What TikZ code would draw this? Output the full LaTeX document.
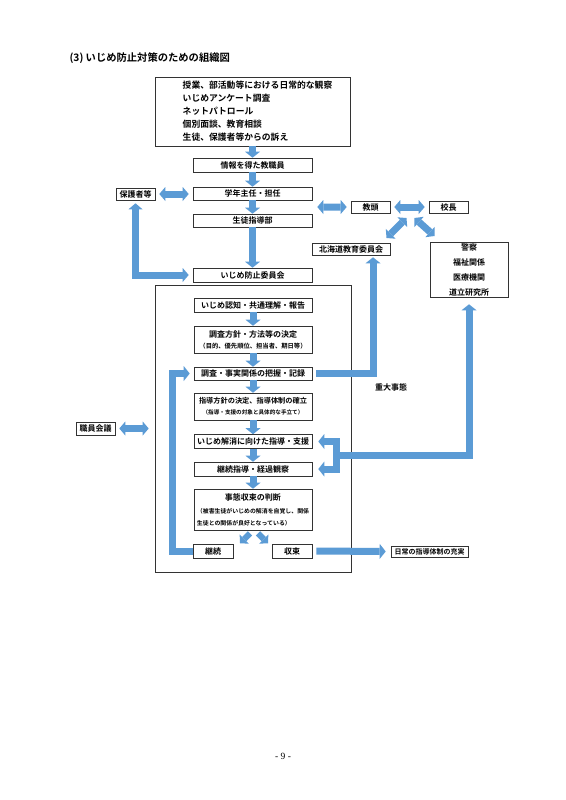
\documentclass[tikz,border=0pt]{standalone}
\usepackage{fontspec}
\setmainfont{Noto Sans CJK JP}[BoldFont={Noto Sans CJK JP Bold}]
\newfontfamily\pagefont{Liberation Serif}
\usepackage{xcolor}
\usetikzlibrary{arrows.meta, calc}
\definecolor{arrowblue}{RGB}{91,155,213}
\newcommand{\notetext}[2]{{\fontsize{#1}{#1}\selectfont #2}}
\newcommand{\ind}{\hspace*{10pt}}

\begin{document}
\begin{tikzpicture}[x=1pt, y=-1pt,
  box/.style={draw=black!80, line width=0.6pt, inner sep=1pt, font=\bfseries\fontsize{8}{10}\selectfont},
  blk/.style={draw=arrowblue, line width=7pt, -{Triangle[length=6pt,width=15pt,line width=0pt]}},
  dblk/.style={draw=arrowblue, line width=7pt, {Triangle[length=6pt,width=14pt,line width=0pt]}-{Triangle[length=6pt,width=14pt,line width=0pt]}},
  blksmall/.style={draw=arrowblue, line width=6pt, -{Triangle[length=6pt,width=13pt,line width=0pt]}},
  blkbar/.style={draw=arrowblue, line width=7pt, line cap=rect}]
\fill[white] (0,0) rectangle (565,800);
\useasboundingbox (0,0) rectangle (565,800);

\node[anchor=west, font=\bfseries\fontsize{10.3}{12}\selectfont] (title) at (66,58) {(3)\ いじめ防止対策のための組織図};

% upper part
\node[box, minimum width=195, minimum height=69, align=left, font=\bfseries\fontsize{8.8}{13}\selectfont] (obs) at (252.5,111.5) {\ind 授業、部活動等における日常的な観察\\\ind いじめアンケート調査\\\ind ネットパトロール\\\ind 個別面談、教育相談\\\ind 生徒、保護者等からの訴え};
\node[box, minimum width=119, minimum height=14] (info) at (252.5,165) {情報を得た教職員};
\node[box, minimum width=119, minimum height=13] (grade) at (252.5,193.5) {学年主任・担任};
\node[box, minimum width=119, minimum height=13] (guide) at (252.5,220.5) {生徒指導部};
\node[box, minimum width=119, minimum height=14] (comm) at (252.5,275) {いじめ防止委員会};
\node[box, minimum width=39, minimum height=12] (parent) at (135.5,194) {保護者等};
\node[box, minimum width=39, minimum height=12] (vp) at (370.5,207) {教頭};
\node[box, minimum width=39, minimum height=12] (head) at (448.5,207) {校長};
\node[box, minimum width=78, minimum height=12] (board) at (351,249) {北海道教育委員会};
\node[box, minimum width=78, minimum height=55, inner sep=0pt, align=center, font=\bfseries\fontsize{8}{15}\selectfont] (police) at (469,269.5) {警察\\福祉関係\\医療機関\\道立研究所};

% committee frame
\node[box, minimum width=196, minimum height=287] (frame) at (253,428.5) {};
\node[box, minimum width=118, minimum height=14] (aware) at (253,305) {いじめ認知・共通理解・報告};
\node[box, minimum width=118, minimum height=27, align=center] (policy) at (253,339.5) {調査方針・方法等の決定\\[1pt]\notetext{6.3}{（目的、優先順位、担当者、期日等）}};
\node[box, minimum width=118, minimum height=13] (invest) at (253,373.5) {調査・事実関係の把握・記録};
\node[box, minimum width=118, minimum height=27, align=center] (plan) at (253,406.5) {\fontsize{7.2}{9}\selectfont 指導方針の決定、指導体制の確立\\[1pt]\notetext{5.6}{（指導・支援の対象と具体的な手立て）}};
\node[box, minimum width=118, minimum height=14] (support) at (253,441.5) {いじめ解消に向けた指導・支援};
\node[box, minimum width=118, minimum height=14] (follow) at (253,469) {継続指導・経過観察};
\node[box, minimum width=118, minimum height=41, align=left] (judge) at (253,509.5) {\makebox[112pt][c]{事態収束の判断}\\[3pt]\notetext{5.9}{（被害生徒がいじめの解消を自覚し、関係}\\[2pt]\notetext{5.9}{生徒との関係が良好となっている）}};
\node[box, minimum width=40, minimum height=14] (cont) at (213,551) {継続};
\node[box, minimum width=40, minimum height=14] (close) at (292,551) {収束};

\node[box, minimum width=39, minimum height=13] (staff) at (95.5,428.5) {職員会議};
\node[box, minimum width=77, minimum height=11, font=\bfseries\fontsize{7}{9}\selectfont] (daily) at (429.5,551.5) {日常の指導体制の充実};
\node[font=\bfseries\fontsize{8}{10}\selectfont] (serious) at (391,387) {重大事態};

% arrows
\foreach \a/\b in {obs/info, info/grade, grade/guide, guide/comm, aware/policy, policy/invest, invest/plan, plan/support, support/follow, follow/judge}
  \draw[blk] (\a.south) -- (\b.north);

\draw[dblk, shorten <=4pt, shorten >=4pt] (parent.east) -- (parent.east -| grade.west);
\coordinate (gmid) at ($(grade.south east)!0.5!(guide.north east)$);
\draw[dblk, shorten <=5pt, shorten >=4pt] (gmid) -- (vp.west);
\draw[dblk, shorten <=4pt, shorten >=4pt] (vp.east) -- (head.west);
\coordinate (hub) at ($(vp.east)!0.5!(head.west)$);
\draw[dblk] ($(hub)+(-3,11)$) -- ($(hub)+(-23,31)$);
\draw[dblk] ($(hub)+(5,11)$) -- ($(hub)+(25,29)$);
\draw[dblk, shorten <=3pt, shorten >=4pt] (parent.south) |- (comm.west);

\draw[blk, shorten <=4pt, shorten >=2pt] (invest.east) -| ($(board.south)+(22,0)$);

\draw[blkbar] ($(support.east)+(24,0)$) -- ($(follow.east)+(24,0)$);
\draw[blk, shorten >=6pt] ($(support.east)+(24,0)$) -- (support.east);
\draw[blk, shorten >=6pt] ($(follow.east)+(24,0)$) -- (follow.east);
\draw[blk, shorten >=7pt] ($(support.east)!0.5!(follow.east)+(24,0)$) -| (police.south);

\draw[blk, shorten >=4pt] (cont.west) -- ++(-20,0) |- (invest.west);
\draw[dblk, shorten <=4pt, shorten >=6pt] (staff.east) -- (staff.east -| frame.west);
\draw[blk, shorten <=4pt, shorten >=5pt] (close.east) -- (daily.west);
\draw[blksmall] ($(judge.south)+(-3,3)$) -- ($(judge.south)+(-13,13)$);
\draw[blksmall] ($(judge.south)+(5,3)$) -- ($(judge.south)+(15,13)$);

\node[font=\pagefont\fontsize{9.5}{11}\selectfont] (pageno) at (283,756) {-\ 9\ -};
\end{tikzpicture}
\end{document}
